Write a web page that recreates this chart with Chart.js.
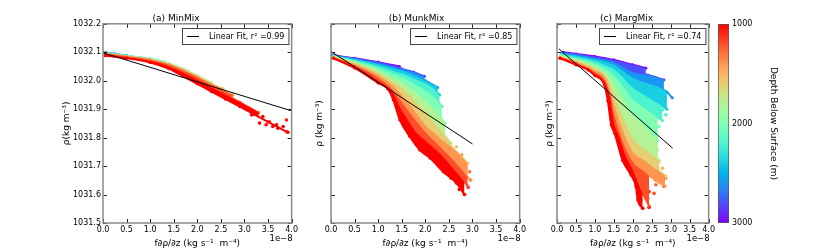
<!DOCTYPE html>
<html>
<head>
    <title>Density against f d(rho)/dz</title>
    <script src="https://cdn.jsdelivr.net/npm/chart.js"></script>
    <style>
        body { margin: 0; background: #fff; width: 830px; height: 249px; overflow: hidden; position: relative; }
        canvas { position: absolute; top: 0; }
    </style>
</head>
<body>
    <canvas id="panelA" width="300" height="249" style="left:0px"></canvas>
    <canvas id="panelB" width="228" height="249" style="left:300px"></canvas>
    <canvas id="panelC" width="187" height="249" style="left:530px"></canvas>
    <canvas id="colorBar" width="114" height="249" style="left:716px"></canvas>

    <script>
        // depth levels (m) shown by colour, one curve each
        const depths = [1000, 1200, 1400, 1600, 1800, 2000, 2200, 2400, 2600, 2800, 3000];
        const xTicks = [0, 0.5, 1, 1.5, 2, 2.5, 3, 3.5, 4];
        const rhoTicks = [1031.5, 1031.6, 1031.7, 1031.8, 1031.9, 1032.0, 1032.1, 1032.2];
        const depthTicks = [1000, 2000, 3000];
        const panelTitles = ['(a) MinMix', '(b) MunkMix', '(c) MargMix'];
        const fitR2 = ['0.99', '0.85', '0.74'];

        // x in units of 1e-8 kg s^-1 m^-4, rho in kg m^-3
        const minmixX = [
            [0.05, 0.5, 1.0, 1.4, 1.7, 2.0, 2.3, 2.6, 2.9, 3.2, 3.5, 3.9],
            [0.05, 0.5, 1.0, 1.4, 1.7, 2.0, 2.3, 2.6, 2.9, 3.3],
            [0.05, 0.5, 1.0, 1.4, 1.7, 2.0, 2.3, 2.6, 2.75],
            [0.05, 0.5, 1.0, 1.4, 1.7, 2.0, 2.3, 2.55],
            [0.05, 0.5, 1.0, 1.4, 1.7, 2.0, 2.3],
            [0.05, 0.5, 1.0, 1.4, 1.8],
            [0.05, 0.5, 1.0, 1.3],
            [0.03, 0.5, 0.9],
            [0.02, 0.5],
            [0.01, 0.25],
            [0.0, 0.08]
        ];
        const minmixRho = [
            [1032.088, 1032.079, 1032.064, 1032.042, 1032.016, 1031.989, 1031.962, 1031.935, 1031.909, 1031.882, 1031.855, 1031.82],
            [1032.092, 1032.082, 1032.069, 1032.05, 1032.028, 1032.003, 1031.976, 1031.951, 1031.925, 1031.888],
            [1032.095, 1032.084, 1032.073, 1032.056, 1032.036, 1032.012, 1031.986, 1031.961, 1031.95],
            [1032.096, 1032.085, 1032.074, 1032.057, 1032.038, 1032.015, 1031.989, 1031.972],
            [1032.096, 1032.085, 1032.075, 1032.059, 1032.04, 1032.018, 1031.993],
            [1032.097, 1032.086, 1032.076, 1032.06, 1032.035],
            [1032.097, 1032.087, 1032.077, 1032.066],
            [1032.098, 1032.088, 1032.079],
            [1032.098, 1032.089],
            [1032.099, 1032.094],
            [1032.099, 1032.098]
        ];
        // loose points at the ends of the clouds
        const minmixTailX = [3.25, 3.39, 3.53, 3.68, 3.82, 3.89, 3.32, 3.46, 3.6, 3.71, 3.92, 3.05, 3.15];
        const minmixTailRho = [1031.886, 1031.874, 1031.856, 1031.845, 1031.839, 1031.862, 1031.851, 1031.845, 1031.839, 1031.833, 1031.819, 1031.905, 1031.88];
        const minmixTailDepth = [1100, 1000, 1100, 1000, 1000, 1050, 1000, 1000, 1000, 1000, 1000, 1150, 1000];
        const minmixFitX = [0, 4.0];
        const minmixFitRho = [1032.098, 1031.894];

        const munkmixX = [
            [0.05, 0.5, 1.0, 1.2, 1.32, 1.46, 1.67, 1.88, 2.1, 2.38, 2.66, 2.83],
            [0.05, 0.5, 1.0, 1.3, 1.5, 1.6, 1.8, 2.0, 2.3, 2.6, 2.9],
            [0.05, 0.5, 1.0, 1.3, 1.5, 1.75, 2.0, 2.3, 2.6, 2.96],
            [0.05, 0.5, 1.0, 1.3, 1.5, 1.75, 2.0, 2.3, 2.6, 2.9],
            [0.05, 0.5, 1.0, 1.3, 1.5, 1.75, 2.0, 2.3, 2.55],
            [0.05, 0.5, 1.0, 1.3, 1.5, 1.75, 2.0, 2.2, 2.42],
            [0.05, 0.5, 1.0, 1.3, 1.5, 1.75, 2.0, 2.2, 2.35],
            [0.05, 0.5, 1.0, 1.3, 1.5, 1.75, 2.0, 2.15, 2.3],
            [0.05, 0.5, 1.0, 1.3, 1.5, 1.75, 2.0, 2.26],
            [0.04, 0.5, 1.0, 1.3, 1.5, 1.75, 1.98],
            [0.02, 0.5, 1.0, 1.45]
        ];
        const munkmixRho = [
            [1032.079, 1032.045, 1031.992, 1031.972, 1031.933, 1031.862, 1031.804, 1031.757, 1031.728, 1031.68, 1031.64, 1031.60],
            [1032.08, 1032.05, 1032.0, 1031.96, 1031.895, 1031.87, 1031.82, 1031.79, 1031.745, 1031.69, 1031.63],
            [1032.081, 1032.054, 1032.01, 1031.97, 1031.925, 1031.87, 1031.82, 1031.77, 1031.72, 1031.65],
            [1032.082, 1032.058, 1032.02, 1031.985, 1031.95, 1031.9, 1031.845, 1031.80, 1031.76, 1031.71],
            [1032.083, 1032.062, 1032.028, 1031.997, 1031.975, 1031.935, 1031.89, 1031.83, 1031.78],
            [1032.084, 1032.066, 1032.037, 1032.01, 1031.995, 1031.965, 1031.93, 1031.895, 1031.85],
            [1032.085, 1032.069, 1032.045, 1032.025, 1032.012, 1031.99, 1031.965, 1031.94, 1031.91],
            [1032.086, 1032.072, 1032.052, 1032.035, 1032.025, 1032.008, 1031.99, 1031.975, 1031.95],
            [1032.087, 1032.075, 1032.058, 1032.045, 1032.035, 1032.02, 1032.0, 1031.976],
            [1032.088, 1032.077, 1032.062, 1032.05, 1032.042, 1032.03, 1032.015],
            [1032.09, 1032.079, 1032.065, 1032.05]
        ];
        const munkmixTailX = [2.66, 2.77, 2.87, 2.94, 2.96, 2.91, 2.72, 2.83, 2.69, 2.55, 2.63, 2.52, 2.45, 2.66, 2.55, 2.48, 2.38, 2.31, 2.27, 2.34];
        const munkmixTailRho = [1031.768, 1031.739, 1031.71, 1031.68, 1031.651, 1031.625, 1031.618, 1031.60, 1031.645, 1031.657, 1031.698, 1031.68, 1031.722, 1031.733, 1031.768, 1031.786, 1031.815, 1031.91, 1031.886, 1031.862];
        const munkmixTailDepth = [1550, 1350, 1350, 1300, 1250, 1150, 1000, 1000, 1050, 1000, 1300, 1150, 1350, 1500, 1650, 1750, 1850, 2100, 2050, 1950];
        const munkmixFitX = [0, 3.0];
        const munkmixFitRho = [1032.103, 1031.778];

        const margmixX = [
            [0.08, 0.5, 0.82, 1.0, 1.25, 1.34, 1.43, 1.52, 1.73, 1.95, 2.08, 2.13, 2.26],
            [0.08, 0.5, 1.0, 1.25, 1.4, 1.5, 1.65, 1.8, 2.0, 2.2, 2.43],
            [0.08, 0.5, 1.0, 1.3, 1.5, 1.75, 2.0, 2.3, 2.6, 2.85],
            [0.1, 0.5, 1.0, 1.3, 1.5, 1.75, 2.0, 2.3, 2.6, 2.87],
            [0.1, 0.5, 1.0, 1.3, 1.5, 1.75, 2.0, 2.3, 2.5, 2.7],
            [0.1, 0.5, 1.0, 1.3, 1.5, 1.75, 2.0, 2.3, 2.5, 2.66],
            [0.1, 0.5, 1.0, 1.3, 1.5, 1.75, 2.0, 2.3, 2.55, 2.78],
            [0.12, 0.5, 1.0, 1.3, 1.5, 1.75, 2.0, 2.3, 2.6, 2.9],
            [0.14, 0.5, 1.0, 1.5, 2.0, 2.4, 2.74, 2.9, 3.04],
            [0.15, 0.5, 1.0, 1.5, 2.0, 2.4, 2.82],
            [0.17, 0.5, 1.0, 1.5, 2.0, 2.34]
        ];
        const margmixRho = [
            [1032.079, 1032.056, 1032.038, 1032.018, 1031.985, 1031.93, 1031.845, 1031.815, 1031.72, 1031.669, 1031.628, 1031.581, 1031.552],
            [1032.08, 1032.06, 1032.024, 1031.995, 1031.94, 1031.855, 1031.80, 1031.74, 1031.685, 1031.62, 1031.56],
            [1032.081, 1032.063, 1032.03, 1031.99, 1031.885, 1031.78, 1031.715, 1031.68, 1031.65, 1031.63],
            [1032.083, 1032.066, 1032.037, 1032.005, 1031.92, 1031.82, 1031.75, 1031.72, 1031.69, 1031.665],
            [1032.085, 1032.07, 1032.044, 1032.015, 1031.955, 1031.87, 1031.80, 1031.76, 1031.74, 1031.72],
            [1032.087, 1032.074, 1032.052, 1032.025, 1031.99, 1031.935, 1031.88, 1031.84, 1031.81, 1031.79],
            [1032.089, 1032.078, 1032.06, 1032.04, 1032.02, 1031.98, 1031.935, 1031.905, 1031.88, 1031.86],
            [1032.092, 1032.083, 1032.068, 1032.052, 1032.04, 1032.01, 1031.975, 1031.95, 1031.925, 1031.9],
            [1032.095, 1032.088, 1032.075, 1032.055, 1032.01, 1031.99, 1031.975, 1031.96, 1031.94],
            [1032.097, 1032.091, 1032.08, 1032.066, 1032.03, 1032.02, 1032.003],
            [1032.1, 1032.094, 1032.085, 1032.073, 1032.056, 1032.044]
        ];
        const margmixTailX = [2.26, 2.43, 2.21, 2.39, 2.13, 2.26, 2.43, 2.17, 2.35, 2.56, 2.61, 2.74, 2.82, 2.87, 2.69, 2.78, 2.69, 2.61, 2.65, 2.61, 2.69, 2.56, 2.87, 2.78];
        const margmixTailRho = [1031.552, 1031.555, 1031.581, 1031.587, 1031.604, 1031.616, 1031.61, 1031.64, 1031.634, 1031.604, 1031.634, 1031.651, 1031.628, 1031.657, 1031.68, 1031.692, 1031.716, 1031.739, 1031.757, 1031.80, 1031.839, 1031.827, 1031.88, 1031.897];
        const margmixTailDepth = [1000, 1000, 1000, 1050, 1000, 1050, 1100, 1000, 1100, 1200, 1250, 1350, 1300, 1400, 1500, 1500, 1650, 1750, 1800, 1950, 2050, 2000, 2200, 2200];
        const margmixFitX = [0.05, 3.05];
        const margmixFitRho = [1032.112, 1031.763];

        Chart.defaults.font.family = "'DejaVu Sans', sans-serif";
        Chart.defaults.color = '#000';
        Chart.defaults.animation = false;

        // matplotlib "rainbow" colormap, t in [0, 1]
        function rainbow(t) {
            const r = Math.min(1, Math.abs(2 * t - 0.5));
            const g = Math.sin(Math.PI * t);
            const b = Math.max(0, Math.cos(Math.PI * t / 2));
            return `rgb(${Math.round(r * 255)},${Math.round(g * 255)},${Math.round(b * 255)})`;
        }
        function depthColour(d) {
            return rainbow((3000 - d) / 2000);
        }

        // inward ticks on all four sides plus the grey frame
        const frameTicks = {
            id: 'frameTicks',
            afterDatasetsDraw(chart, args, opts) {
                const {ctx, chartArea: a, scales} = chart;
                ctx.save();
                ctx.strokeStyle = '#222';
                ctx.lineWidth = 1;
                ctx.beginPath();
                if (opts.x) {
                    scales.x.ticks.forEach(t => {
                        const px = Math.round(scales.x.getPixelForValue(t.value)) + 0.5;
                        ctx.moveTo(px, a.bottom); ctx.lineTo(px, a.bottom - 4);
                        ctx.moveTo(px, a.top); ctx.lineTo(px, a.top + 4);
                    });
                }
                scales.y.ticks.forEach(t => {
                    const py = Math.round(scales.y.getPixelForValue(t.value)) + 0.5;
                    ctx.moveTo(a.left, py); ctx.lineTo(a.left + 4, py);
                    ctx.moveTo(a.right, py); ctx.lineTo(a.right - 4, py);
                });
                ctx.stroke();
                ctx.strokeStyle = '#8a8a8a';
                ctx.lineWidth = 1.5;
                ctx.strokeRect(a.left, a.top, a.width, a.height);
                ctx.restore();
            }
        };

        // boxed legend for the fit line, top right inside the axes, and the x offset text
        const fitLegend = {
            id: 'fitLegend',
            afterDatasetsDraw(chart) {
                const fit = chart.data.datasets.find(ds => ds.isFit);
                if (!fit) return;
                const {ctx, chartArea: a} = chart;
                ctx.save();
                ctx.font = "8px 'DejaVu Sans'";
                const tw = ctx.measureText(fit.label).width;
                const w = 5 + 12 + 10 + tw + 4, h = 16;
                const left = Math.round(a.right - 3 - w), top = Math.round(a.top + 4);
                ctx.fillStyle = '#fff';
                ctx.fillRect(left, top, w, h);
                ctx.strokeStyle = '#444';
                ctx.lineWidth = 1;
                ctx.strokeRect(left + 0.5, top + 0.5, w, h);
                ctx.beginPath();
                ctx.moveTo(left + 5, top + 8.5);
                ctx.lineTo(left + 17, top + 8.5);
                ctx.strokeStyle = '#000';
                ctx.stroke();
                ctx.fillStyle = '#000';
                ctx.textBaseline = 'middle';
                ctx.fillText(fit.label, left + 27, top + 9);
                ctx.restore();
            },
            afterDraw(chart) {
                const {ctx, chartArea: a} = chart;
                ctx.save();
                ctx.font = "8.5px 'DejaVu Sans'";
                ctx.fillStyle = '#000';
                ctx.textAlign = 'right';
                ctx.textBaseline = 'middle';
                ctx.fillText('1e\u22128', a.right + 1, a.bottom + 16);
                ctx.restore();
            }
        };

        function makePanel(id, idx, xs, rhos, tail, fitX, fitRho, layout) {
            const datasets = depths.map((d, i) => ({
                label: d + ' m',
                data: xs[i].map((x, j) => ({x: x, y: rhos[i][j]})),
                showLine: true,
                cubicInterpolationMode: 'monotone',
                borderColor: depthColour(d),
                backgroundColor: depthColour(d),
                fill: i < depths.length - 1 ? '+1' : false,
                borderWidth: 2,
                pointRadius: 1.6,
                pointBorderWidth: 0,
                order: 1
            }));
            datasets.push({
                label: 'scattered',
                data: tail.x.map((x, j) => ({x: x, y: tail.rho[j]})),
                showLine: false,
                backgroundColor: tail.depth.map(depthColour),
                pointRadius: 1.8,
                pointBorderWidth: 0,
                order: 1
            });
            datasets.push({
                label: 'Linear Fit, r\u00b2 =' + fitR2[idx],
                isFit: true,
                data: fitX.map((x, j) => ({x: x, y: fitRho[j]})),
                showLine: true,
                borderColor: '#000',
                borderWidth: 1,
                pointRadius: 0,
                fill: false,
                order: 0
            });

            return new Chart(document.getElementById(id), {
                type: 'scatter',
                data: {datasets: datasets},
                options: {
                    responsive: false,
                    layout: {padding: {left: layout.padLeft, right: layout.padRight, top: 0, bottom: 0}},
                    plugins: {
                        legend: {display: false},
                        tooltip: {enabled: false},
                        title: {
                            display: true,
                            text: panelTitles[idx],
                            font: {size: 9, weight: 'normal'},
                            color: '#000',
                            padding: {top: 13, bottom: 0}
                        },
                        frameTicks: {x: true}
                    },
                    scales: {
                        x: {
                            type: 'linear',
                            min: 0,
                            max: 4,
                            afterBuildTicks: s => { s.ticks = xTicks.map(v => ({value: v})); },
                            afterFit: s => { s.height = 26; },
                            ticks: {font: {size: 8}, color: '#000', padding: 2, maxRotation: 0, autoSkip: false,
                                callback: v => v.toFixed(1)},
                            grid: {display: false, drawTicks: false},
                            border: {display: false},
                            title: {display: true, text: 'f\u2202\u03c1/\u2202z (kg s\u207b\u00b9  m\u207b\u2074)',
                                font: {size: 9}, color: '#000', padding: {top: 0, bottom: 0}}
                        },
                        y: {
                            type: 'linear',
                            min: 1031.5,
                            max: 1032.2,
                            afterBuildTicks: s => { s.ticks = rhoTicks.map(v => ({value: v})); },
                            afterFit: s => { s.width = layout.yWidth; },
                            ticks: {display: layout.yLabels, font: {size: 8}, color: '#000', padding: 2,
                                callback: v => v.toFixed(1)},
                            grid: {display: false, drawTicks: false},
                            border: {display: false},
                            title: {display: true, text: layout.yTitle, font: {size: 9}, color: '#000',
                                padding: {top: 1.6, bottom: 0}}
                        }
                    }
                },
                plugins: [frameTicks, fitLegend]
            });
        }

        makePanel('panelA', 0, minmixX, minmixRho,
            {x: minmixTailX, rho: minmixTailRho, depth: minmixTailDepth}, minmixFitX, minmixFitRho,
            {padLeft: 60, padRight: 8, yWidth: 43, yLabels: true, yTitle: '\u03c1(kg m\u207b\u00b3)'});
        makePanel('panelB', 1, munkmixX, munkmixRho,
            {x: munkmixTailX, rho: munkmixTailRho, depth: munkmixTailDepth}, munkmixFitX, munkmixFitRho,
            {padLeft: 13, padRight: 8, yWidth: 18, yLabels: false, yTitle: '\u03c1 (kg m\u207b\u00b3)'});
        makePanel('panelC', 2, margmixX, margmixRho,
            {x: margmixTailX, rho: margmixTailRho, depth: margmixTailDepth}, margmixFitX, margmixFitRho,
            {padLeft: 13, padRight: 7, yWidth: 14, yLabels: false, yTitle: '\u03c1 (kg m\u207b\u00b3)'});

        // colour bar: one floating bar spanning the depth range, filled with the colormap
        new Chart(document.getElementById('colorBar'), {
            type: 'bar',
            data: {
                labels: ['depth'],
                datasets: [{
                    data: [[depthTicks[0], depthTicks[depthTicks.length - 1]]],
                    backgroundColor: (c) => {
                        const a = c.chart.chartArea;
                        if (!a) return '#fff';
                        const g = c.chart.ctx.createLinearGradient(0, a.top, 0, a.bottom);
                        for (let s = 0; s <= 20; s++) {
                            g.addColorStop(s / 20, rainbow(1 - s / 20));
                        }
                        return g;
                    },
                    borderColor: '#555',
                    borderWidth: 1,
                    borderSkipped: false,
                    barPercentage: 1,
                    categoryPercentage: 1
                }]
            },
            options: {
                responsive: false,
                layout: {padding: {left: 2, right: 50, top: 24, bottom: 26}},
                plugins: {legend: {display: false}, tooltip: {enabled: false}},
                scales: {
                    x: {display: false},
                    y: {
                        position: 'right',
                        reverse: true,
                        min: 1000,
                        max: 3000,
                        afterBuildTicks: s => { s.ticks = depthTicks.map(v => ({value: v})); },
                        afterFit: s => { s.width = 51; },
                        ticks: {font: {size: 8}, color: '#000', padding: 3, callback: v => String(v)},
                        grid: {display: false, drawTicks: false},
                        border: {display: false},
                        title: {display: true, text: 'Depth Below Surface (m)', font: {size: 9}, color: '#000',
                            padding: {top: 1.6, bottom: 0}}
                    }
                }
            }
        });
    </script>
</body>
</html>
